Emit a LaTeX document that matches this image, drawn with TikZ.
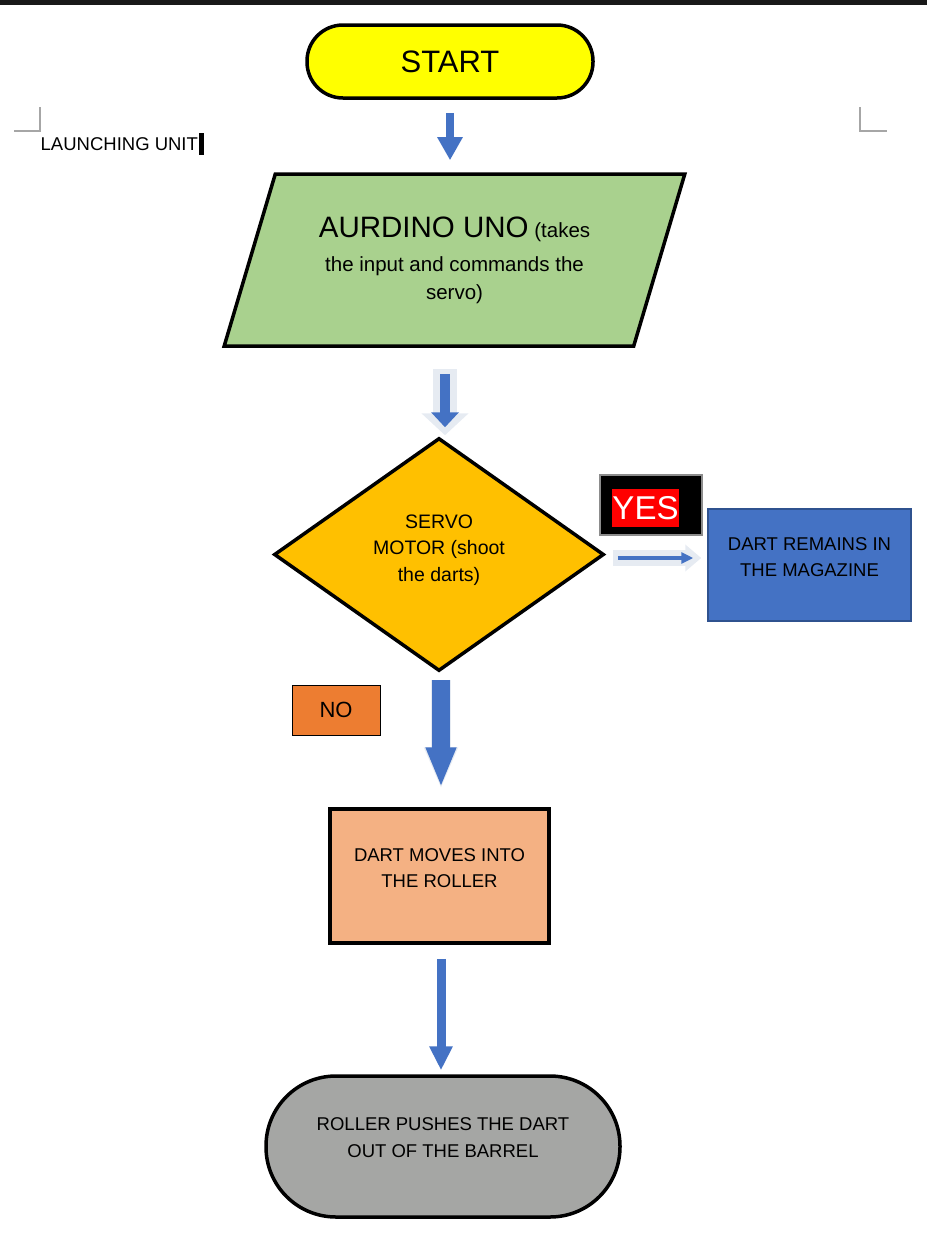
\documentclass[tikz,border=0pt]{standalone}
\usepackage{fontspec}
\setmainfont{Liberation Sans}
\usetikzlibrary{arrows.meta,shapes}
\definecolor{startyellow}{HTML}{FFFF00}
\definecolor{unogreen}{HTML}{A9D18E}
\definecolor{servoorange}{HTML}{FFC000}
\definecolor{magblue}{HTML}{4472C4}
\definecolor{magedge}{HTML}{2F528F}
\definecolor{noorange}{HTML}{ED7D31}
\definecolor{rollerpeach}{HTML}{F4B183}
\definecolor{barrelgray}{HTML}{A5A6A4}
\definecolor{flowblue}{HTML}{4472C4}
\definecolor{glowblue}{HTML}{E6EBF2}
\tikzstyle{box} = [draw=black, line width=3.5pt, inner sep=0pt, align=center, font=\fontsize{18.5}{26.5}\selectfont]
\tikzstyle{terminal} = [box, rectangle, rounded corners=36pt, minimum width=286pt, minimum height=73pt, fill=startyellow]
\tikzstyle{io} = [box, trapezium, trapezium left angle=66, trapezium right angle=114, trapezium stretches=true, minimum width=463pt, minimum height=172pt, fill=unogreen]
\tikzstyle{decision} = [box, diamond, minimum width=330pt, minimum height=233pt, fill=servoorange]
\tikzstyle{process} = [box, rectangle, minimum width=219pt, minimum height=134pt, fill=rollerpeach]
\tikzstyle{tag} = [rectangle, inner sep=0pt, align=center]
\tikzstyle{flow} = [draw=flowblue, line width=8pt, -{Triangle[width=24pt,length=23pt]}]
\tikzstyle{glow} = [draw=glowblue, line width=24pt, -{Triangle[width=46pt,length=22pt]}]
\tikzstyle{cornermark} = [draw=black!35, line width=1.2pt]

\begin{document}
\begin{tikzpicture}[x=1pt,y=-1pt]
    \useasboundingbox (0,0) rectangle (927,1248);
    \fill[black!90] (0,0) rectangle (927,5);

    % Page corner marks and heading
    \foreach \x/\dx in {40/-26, 860/27}
        \draw[cornermark] (\x,107) -- (\x,131) -- (\x+\dx,131);
    \node[tag, anchor=west, font=\fontsize{18.5}{22}\selectfont] (title) at (40.5,144) {LAUNCHING UNIT};
    \fill (title.east) ++(1,-11) rectangle ++(5,22);

    % First we draw the shapes
    \node[terminal, font=\fontsize{31}{34}\selectfont] (start) at (450,61.5) {START};
    \node[io, font=\fontsize{20.5}{28}\selectfont] (aurdino) at (454.5,260) {{\fontsize{29.5}{30}\selectfont AURDINO UNO} (takes\\[6pt]the input and commands the\\servo)};
    \node[decision, font=\fontsize{19.5}{26.5}\selectfont, text depth=13pt] (servo) at (439,554.5) {SERVO\\MOTOR (shoot\\the darts)};
    \node[box, rectangle, line width=1.5pt, draw=magedge, fill=magblue, minimum width=203pt, minimum height=112pt, text depth=16pt] (magazine) at (809.5,565) {DART REMAINS IN\\THE MAGAZINE};
    \node[process, text depth=16pt] (roller) at (439.5,876) {DART MOVES INTO\\THE ROLLER};
    \node[terminal, rounded corners=70pt, minimum width=354pt, minimum height=141pt, fill=barrelgray, text depth=18pt] (barrel) at (443,1146.5) {ROLLER PUSHES THE DART\\OUT OF THE BARREL};

    % Branch labels
    \node[tag, fill=black, draw=black!45, line width=1.5pt, minimum width=102pt, minimum height=60pt] (yesframe) at (651,505) {};
    \node[tag, fill=red, text=white, minimum width=65pt, minimum height=38pt, font=\fontsize{33}{36}\selectfont] (yes) at (645.5,508) {YES};
    \node[tag, draw=black, line width=1pt, fill=noorange, minimum width=88pt, minimum height=50pt, font=\fontsize{22}{26}\selectfont] (no) at (336,710) {NO};

    % Connect shapes with arrows
    \coordinate (axisstart) at (450,0);
    \coordinate (axisuno) at (445,0);
    \coordinate (axisno) at (441,0);
    \coordinate (yesrow) at (0,558);
    \path[flow, shorten <=13pt, shorten >=12pt] (start.south) -- (aurdino.north -| axisstart);
    \path[glow, shorten <=21pt, shorten >=1pt] (aurdino.south -| axisuno) -- (servo.north -| axisuno);
    \path[flow, line width=10pt, -{Triangle[width=27pt,length=15pt]}, shorten <=26pt, shorten >=9pt] (aurdino.south -| axisuno) -- (servo.north -| axisuno);
    \path[glow, line width=16pt, -{Triangle[width=26pt,length=16pt]}, shorten <=7pt, shorten >=6pt] (servo.east |- yesrow) -- (magazine.west |- yesrow);
    \path[flow, line width=4pt, -{Triangle[width=11pt,length=12pt]}, shorten <=12pt, shorten >=14pt] (servo.east |- yesrow) -- (magazine.west |- yesrow);
    \path[glow, line width=20pt, -{Triangle[width=31pt,length=42pt]}, shorten <=7pt, shorten >=18pt, xshift=1.5pt] (servo.south -| axisno) -- (roller.north -| axisno);
    \path[flow, line width=18pt, -{Triangle[width=28pt,length=40pt]}, shorten <=7pt, shorten >=20pt] (servo.south -| axisno) -- (roller.north -| axisno);
    \path[flow, line width=9pt, -{Triangle[width=22pt,length=24pt]}, shorten <=14pt, shorten >=4pt] (roller.south -| axisno) -- (barrel.north -| axisno);

\end{tikzpicture}
\end{document}
